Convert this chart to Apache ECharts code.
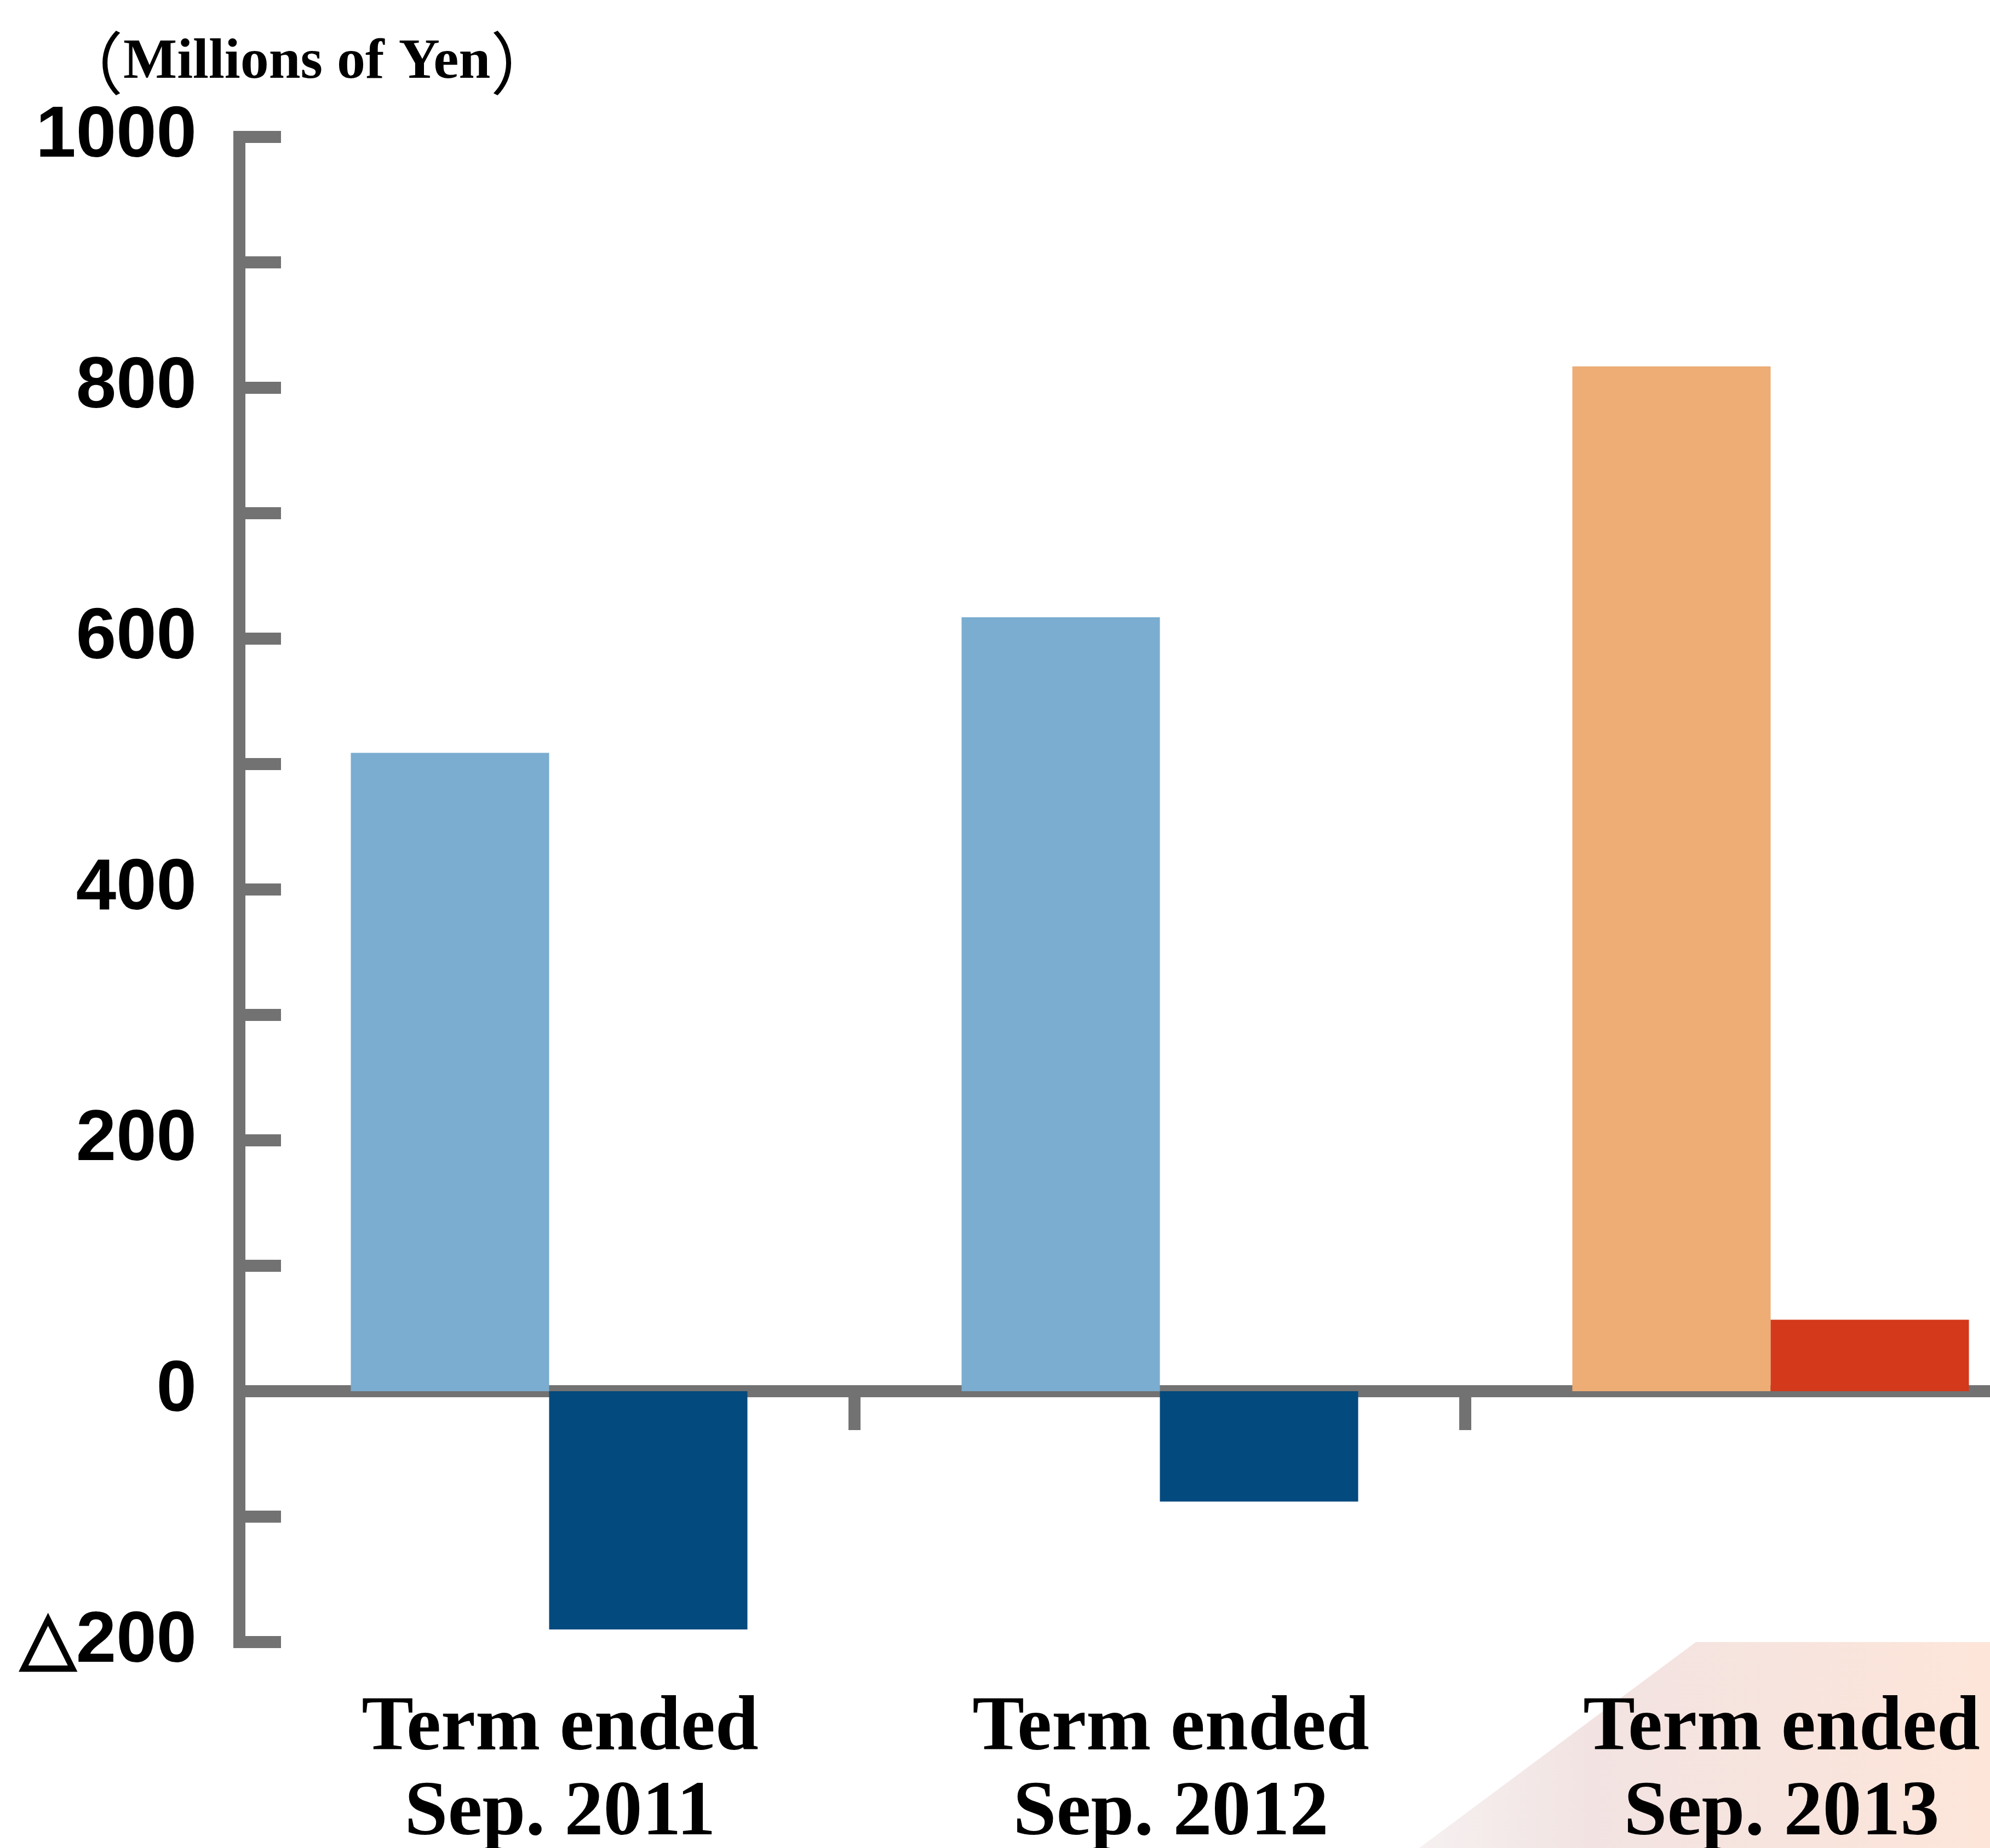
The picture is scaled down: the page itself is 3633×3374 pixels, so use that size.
<!DOCTYPE html>
<html>
<head>
<meta charset="utf-8">
<script src="https://cdn.jsdelivr.net/npm/echarts@6/dist/echarts.min.js"></script>
<style>
  html, body { margin: 0; padding: 0; background: #ffffff; }
  #chart { width: 3633px; height: 3374px; }
</style>
</head>
<body>
<div id="chart"></div>
<script>
// Fiscal terms on the category axis
const categories = ['Term ended\nSep. 2011', 'Term ended\nSep. 2012', 'Term ended\nSep. 2013'];

// Left bar of each pair and right bar of each pair (millions of yen)
const leftValues = [509, 617, 817];
const rightValues = [-190, -88, 57];

// Bar fills per term
const leftColors = ['#7AADD0', '#7AADD0', '#EDAD75'];
const rightColors = ['#034A7F', '#034A7F', '#D3391A'];

// Labelled ticks on the value axis (negatives written with a triangle)
const yTickValues = [-200, 0, 200, 400, 600, 800, 1000];
const yTickLabels = ['△200', '0', '200', '400', '600', '800', '1000'];

const unitLabel = 'Millions of Yen';

const AXIS_GRAY = '#727272';
const SERIF = "'Liberation Serif', 'Times New Roman', serif";
const chart = echarts.init(document.getElementById('chart'), null, { renderer: 'canvas' });

chart.setOption({
  animation: false,
  backgroundColor: '#ffffff',
  title: {
    text: '{p|（}' + unitLabel + '{p|）}',
    left: 96,
    top: 48,
    textStyle: {
      fontFamily: SERIF,
      fontWeight: 'bold',
      fontSize: 104,
      color: '#000000',
      rich: {
        p: {
          fontFamily: "'Noto Sans CJK JP', sans-serif",
          fontWeight: 'normal',
          fontSize: 124,
          color: '#000000'
        }
      }
    }
  },
  graphic: [{
    // soft peach wash in the lower-right corner
    type: 'polygon',
    silent: true,
    z: -10,
    shape: { points: [[3096, 2998], [3633, 2998], [3633, 3374], [2591, 3374]] },
    style: {
      fill: new echarts.graphic.LinearGradient(0, 0, 1, 0, [
        { offset: 0, color: 'rgba(238,226,226,0.5)' },
        { offset: 0.3, color: '#F2E3E2' },
        { offset: 1, color: '#FDE5D9' }
      ])
    }
  }],
  grid: {
    left: 445, right: -157, top: 250, bottom: 376,
    containLabel: false,
    outerBoundsMode: 'none'
  },
  xAxis: {
    type: 'category',
    data: categories,
    boundaryGap: true,
    axisLine: { onZero: true, lineStyle: { color: AXIS_GRAY, width: 22 } },
    axisTick: {
      show: true,
      inside: false,
      length: 71,
      alignWithLabel: false,
      interval: function (i) { return i > 0; },
      lineStyle: { color: AXIS_GRAY, width: 22 }
    },
    axisLabel: {
      interval: 0,
      margin: 82,
      padding: [0, 0, 0, 40],
      fontFamily: SERIF,
      fontWeight: 'bold',
      fontSize: 142,
      lineHeight: 155,
      color: '#000000'
    },
    splitLine: { show: false }
  },
  yAxis: {
    type: 'value',
    min: -200,
    max: 1000,
    interval: 100,
    offset: 8,
    axisLine: { show: true, lineStyle: { color: AXIS_GRAY, width: 22, cap: 'square' } },
    axisTick: { show: true, inside: true, length: 76, lineStyle: { color: AXIS_GRAY, width: 22 } },
    axisLabel: {
      margin: 78,
      showMinLabel: true,
      showMaxLabel: true,
      fontFamily: "'Liberation Sans', Arial, sans-serif",
      fontWeight: 'bold',
      fontSize: 132,
      color: '#000000',
      formatter: function (v) {
        const i = yTickValues.indexOf(v);
        return i >= 0 ? yTickLabels[i] : '';
      }
    },
    splitLine: { show: false }
  },
  series: [
    {
      type: 'bar',
      barWidth: 362,
      barGap: '0%',
      data: leftValues.map((v, i) => ({ value: v, itemStyle: { color: leftColors[i] } }))
    },
    {
      type: 'bar',
      barWidth: 362,
      barGap: '0%',
      data: rightValues.map((v, i) => ({ value: v, itemStyle: { color: rightColors[i] } }))
    }
  ]
});
</script>
</body>
</html>
